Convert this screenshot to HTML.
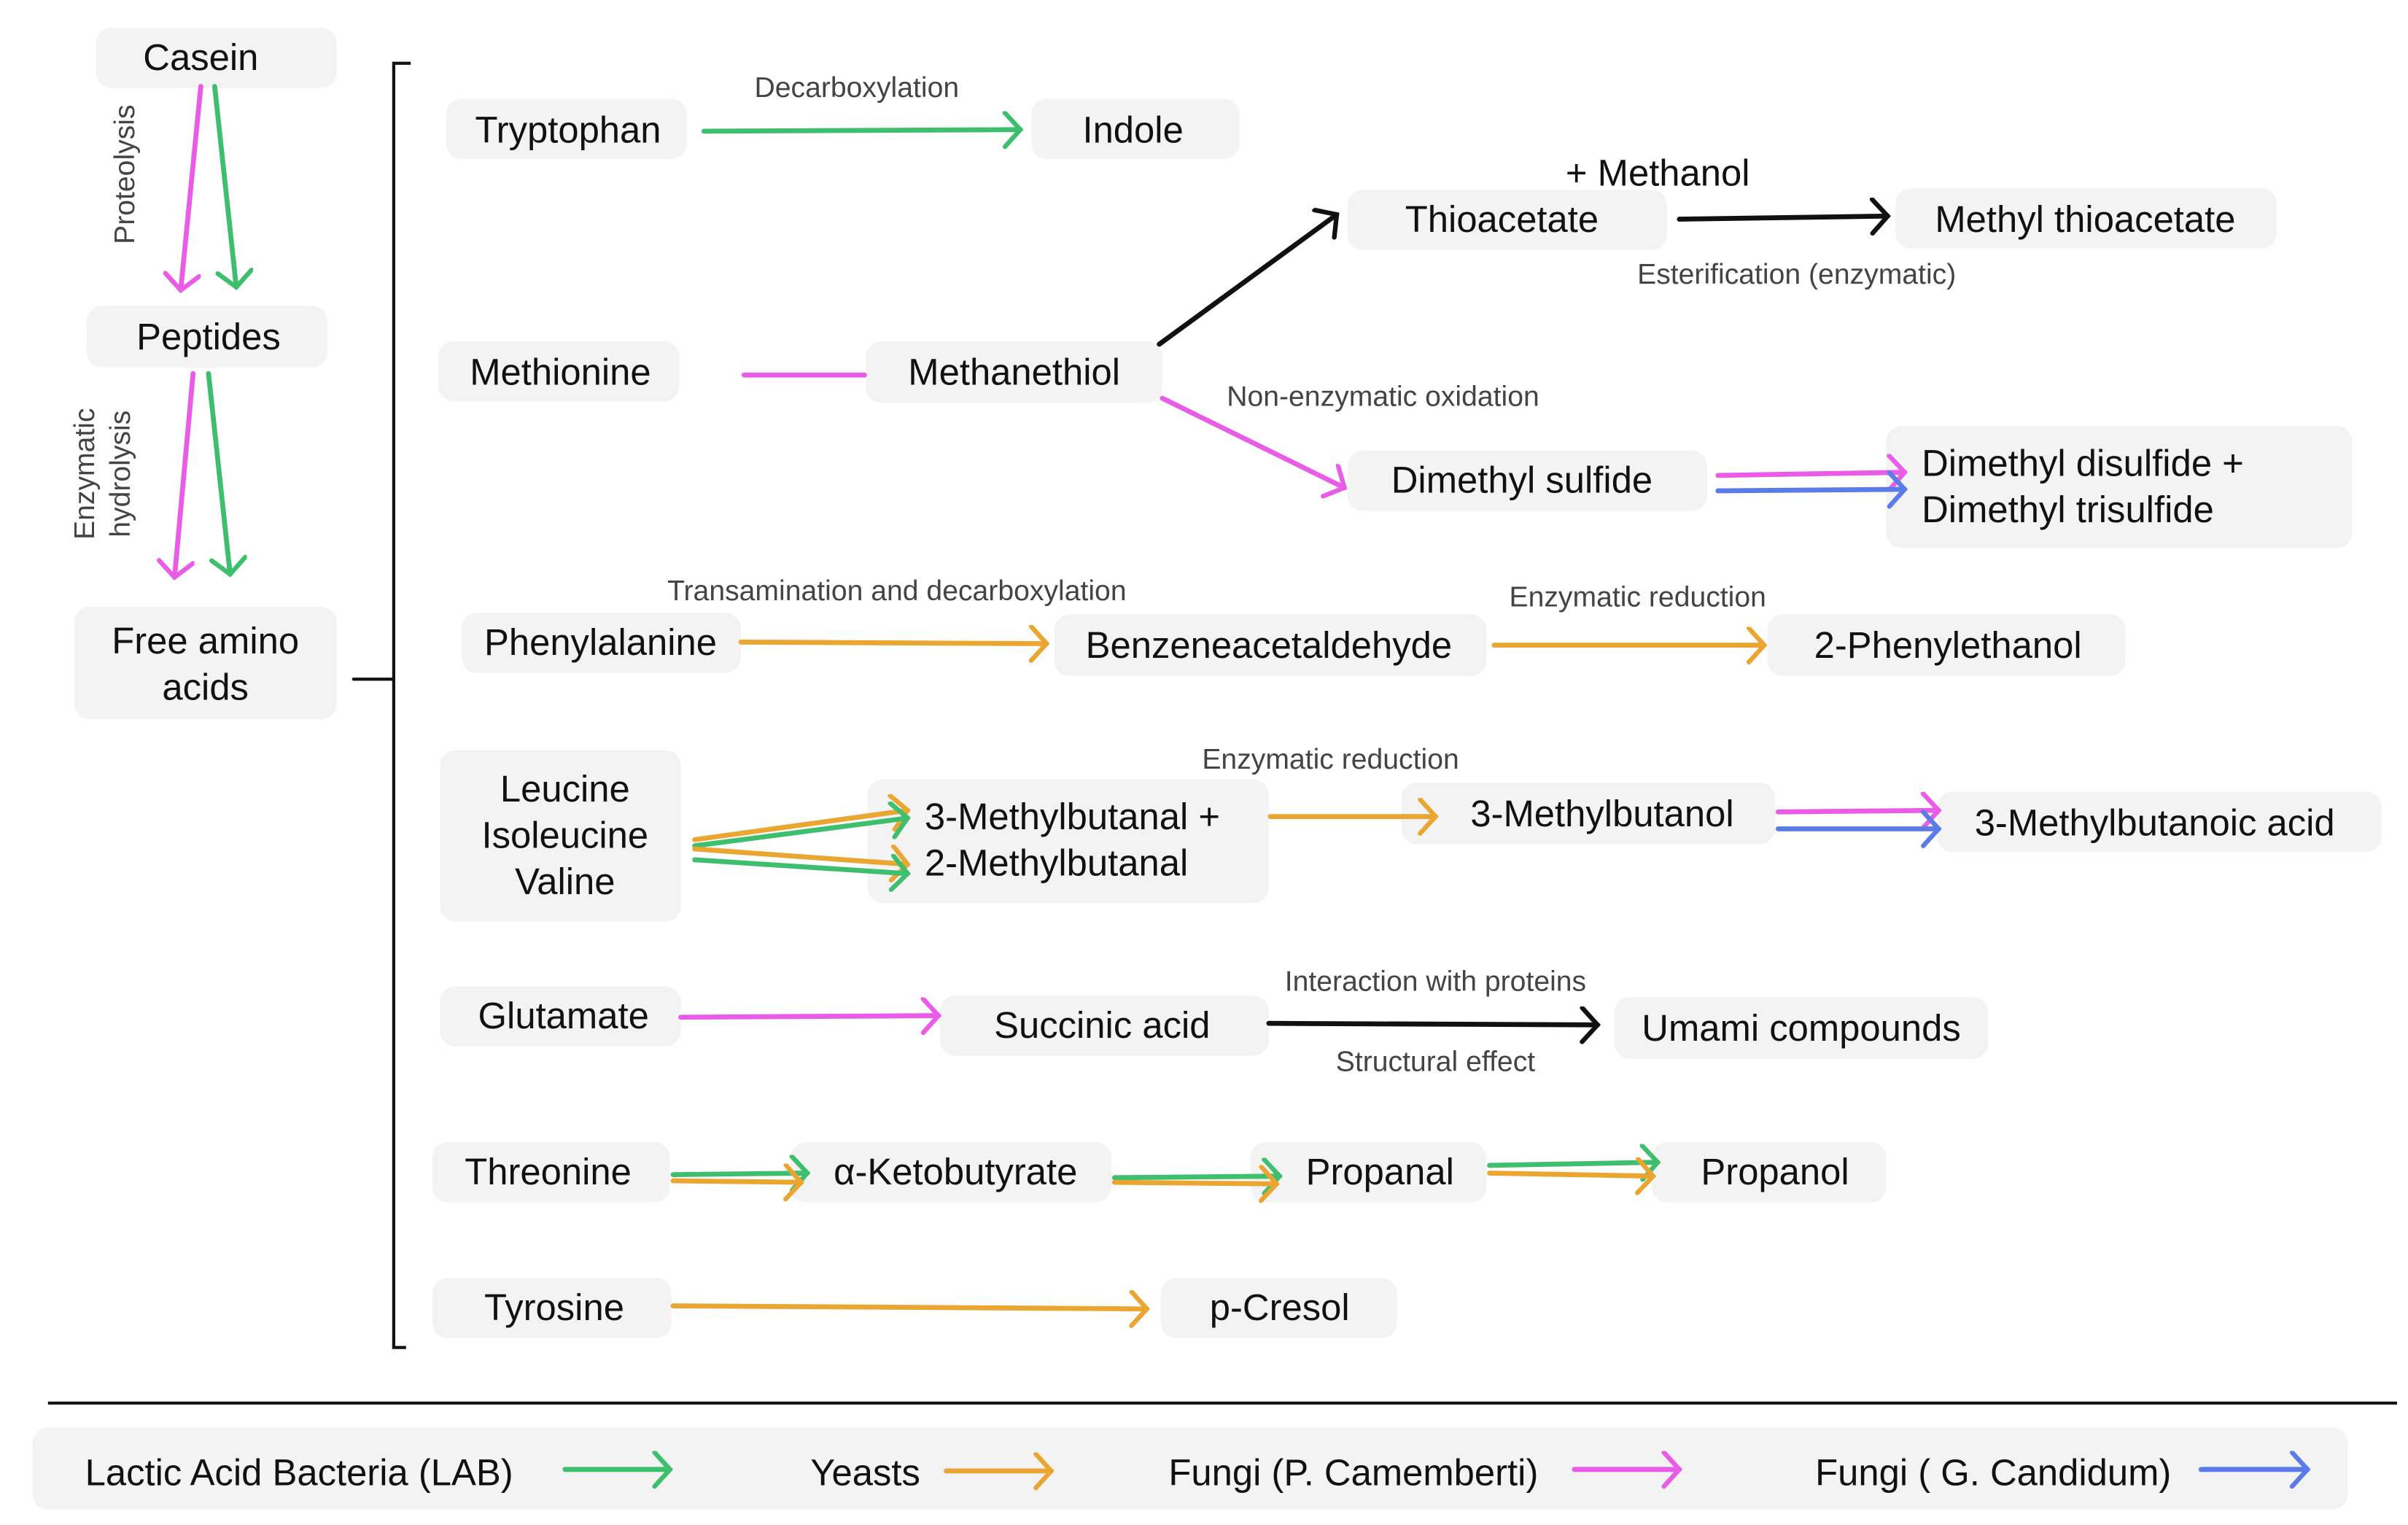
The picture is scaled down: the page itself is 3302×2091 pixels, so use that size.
<!DOCTYPE html>
<html><head><meta charset="utf-8"><style>
html,body{margin:0;padding:0;background:#fff;}
svg{display:block;}
.n{font-family:"Liberation Sans",sans-serif;font-size:24px;fill:#111;text-anchor:middle;dominant-baseline:central;}
.l{font-family:"Liberation Sans",sans-serif;font-size:18.5px;fill:#444;text-anchor:middle;dominant-baseline:central;}
.b{fill:#f3f3f3;}
</style></head><body>
<svg width="3302" height="2091" viewBox="0 0 1560 988" xmlns="http://www.w3.org/2000/svg">
<defs>
<marker id="mg" markerUnits="userSpaceOnUse" markerWidth="30" markerHeight="30" refX="14" refY="12" orient="auto"><path d="M4,1 L14,12 L4,23" fill="none" stroke="#3dbf6e" stroke-width="3" stroke-linecap="round"/></marker>
<marker id="mp" markerUnits="userSpaceOnUse" markerWidth="30" markerHeight="30" refX="14" refY="12" orient="auto"><path d="M4,1 L14,12 L4,23" fill="none" stroke="#e85ce8" stroke-width="3" stroke-linecap="round"/></marker>
<marker id="mo" markerUnits="userSpaceOnUse" markerWidth="30" markerHeight="30" refX="14" refY="12" orient="auto"><path d="M4,1 L14,12 L4,23" fill="none" stroke="#eaa630" stroke-width="3" stroke-linecap="round"/></marker>
<marker id="mb" markerUnits="userSpaceOnUse" markerWidth="30" markerHeight="30" refX="14" refY="12" orient="auto"><path d="M4,1 L14,12 L4,23" fill="none" stroke="#5a7be8" stroke-width="3" stroke-linecap="round"/></marker>
<marker id="mk" markerUnits="userSpaceOnUse" markerWidth="30" markerHeight="30" refX="14" refY="12" orient="auto"><path d="M4,1 L14,12 L4,23" fill="none" stroke="#111" stroke-width="3" stroke-linecap="round"/></marker>
</defs>
<!-- boxes -->
<g class="b">
<rect x="62" y="18" width="156" height="39" rx="10"/>
<rect x="56" y="198" width="156" height="40" rx="10"/>
<rect x="48" y="393" width="170" height="73" rx="10"/>
<rect x="289" y="64" width="156" height="39" rx="10"/>
<rect x="668" y="64" width="135" height="39" rx="10"/>
<rect x="873" y="123" width="207" height="39" rx="10"/>
<rect x="1228" y="122" width="247" height="39" rx="10"/>
<rect x="284" y="221" width="156" height="39" rx="10"/>
<rect x="561" y="221" width="192" height="40" rx="10"/>
<rect x="873" y="292" width="233" height="39" rx="10"/>
<rect x="1222" y="276" width="302" height="79" rx="10"/>
<rect x="299" y="397" width="181" height="39" rx="10"/>
<rect x="683" y="398" width="280" height="40" rx="10"/>
<rect x="1145" y="398" width="232" height="40" rx="10"/>
<rect x="285" y="486" width="156" height="111" rx="10"/>
<rect x="562" y="505" width="260" height="80" rx="10"/>
<rect x="908" y="507" width="242" height="40" rx="10"/>
<rect x="1255" y="513" width="288" height="39" rx="10"/>
<rect x="285" y="639" width="156" height="39" rx="10"/>
<rect x="609" y="645" width="213" height="39" rx="10"/>
<rect x="1046" y="646" width="242" height="40" rx="10"/>
<rect x="280" y="740" width="154" height="39" rx="10"/>
<rect x="512" y="740" width="208" height="39" rx="10"/>
<rect x="810" y="740" width="153" height="39" rx="10"/>
<rect x="1070" y="740" width="152" height="39" rx="10"/>
<rect x="280" y="828" width="155" height="39" rx="10"/>
<rect x="752" y="828" width="153" height="39" rx="10"/>
<rect x="21" y="925" width="1500" height="53" rx="10"/>
</g>
<g stroke-width="3.2" fill="none" stroke-linecap="round">
<line x1="130" y1="56" x2="117" y2="188" stroke="#e85ce8" marker-end="url(#mp)"/>
<line x1="139" y1="56" x2="153" y2="186" stroke="#3dbf6e" marker-end="url(#mg)"/>
<line x1="125" y1="242" x2="113" y2="374" stroke="#e85ce8" marker-end="url(#mp)"/>
<line x1="135" y1="242" x2="149" y2="372" stroke="#3dbf6e" marker-end="url(#mg)"/>
<polyline points="266,41 255,41 255,873 263,873" stroke="#111" stroke-width="2" stroke-linecap="butt"/>
<line x1="229" y1="440" x2="255" y2="440" stroke="#111" stroke-width="2"/>
<line x1="456" y1="85" x2="661" y2="84" stroke="#3dbf6e" marker-end="url(#mg)"/>
<line x1="1088" y1="142" x2="1223" y2="140" stroke="#111" marker-end="url(#mk)"/>
<line x1="482" y1="243" x2="560" y2="243" stroke="#e85ce8"/>
<line x1="751" y1="223" x2="866" y2="139" stroke="#111" marker-end="url(#mk)"/>
<line x1="753" y1="258" x2="871" y2="316" stroke="#e85ce8" marker-end="url(#mp)"/>
<line x1="1113" y1="308" x2="1234" y2="306" stroke="#e85ce8" marker-end="url(#mp)"/>
<line x1="1113" y1="318" x2="1234" y2="317" stroke="#5a7be8" marker-end="url(#mb)"/>
<line x1="480" y1="416" x2="678" y2="417" stroke="#eaa630" marker-end="url(#mo)"/>
<line x1="968" y1="418" x2="1143" y2="418" stroke="#eaa630" marker-end="url(#mo)"/>
<line x1="450" y1="544" x2="588" y2="525" stroke="#eaa630" marker-end="url(#mo)"/>
<line x1="450" y1="548" x2="588" y2="530" stroke="#3dbf6e" marker-end="url(#mg)"/>
<line x1="450" y1="550" x2="588" y2="560" stroke="#eaa630" marker-end="url(#mo)"/>
<line x1="450" y1="557" x2="588" y2="566" stroke="#3dbf6e" marker-end="url(#mg)"/>
<line x1="823" y1="529" x2="930" y2="529" stroke="#eaa630" marker-end="url(#mo)"/>
<line x1="1152" y1="526" x2="1256" y2="525" stroke="#e85ce8" marker-end="url(#mp)"/>
<line x1="1152" y1="537" x2="1256" y2="537" stroke="#5a7be8" marker-end="url(#mb)"/>
<line x1="441" y1="659" x2="608" y2="658" stroke="#e85ce8" marker-end="url(#mp)"/>
<line x1="822" y1="663" x2="1035" y2="664" stroke="#111" marker-end="url(#mk)"/>
<line x1="436" y1="761" x2="523" y2="760" stroke="#3dbf6e" marker-end="url(#mg)"/>
<line x1="436" y1="765" x2="519" y2="766" stroke="#eaa630" marker-end="url(#mo)"/>
<line x1="722" y1="763" x2="829" y2="762" stroke="#3dbf6e" marker-end="url(#mg)"/>
<line x1="722" y1="766" x2="827" y2="767" stroke="#eaa630" marker-end="url(#mo)"/>
<line x1="965" y1="755" x2="1074" y2="753" stroke="#3dbf6e" marker-end="url(#mg)"/>
<line x1="965" y1="760" x2="1071" y2="762" stroke="#eaa630" marker-end="url(#mo)"/>
<line x1="436" y1="846" x2="743" y2="848" stroke="#eaa630" marker-end="url(#mo)"/>
<line x1="31" y1="909" x2="1553" y2="909" stroke="#111" stroke-width="2" stroke-linecap="butt"/>
<line x1="366" y1="952" x2="434" y2="952" stroke="#3dbf6e" marker-end="url(#mg)"/>
<line x1="613" y1="953" x2="681" y2="953" stroke="#eaa630" marker-end="url(#mo)"/>
<line x1="1020" y1="952" x2="1088" y2="952" stroke="#e85ce8" marker-end="url(#mp)"/>
<line x1="1426" y1="952" x2="1495" y2="952" stroke="#5a7be8" marker-end="url(#mb)"/>
</g>
<g class="n">
<text x="130" y="37">Casein</text>
<text x="135" y="218">Peptides</text>
<text x="133" y="415">Free amino</text>
<text x="133" y="445">acids</text>
<text x="368" y="84">Tryptophan</text>
<text x="734" y="84">Indole</text>
<text x="973" y="142">Thioacetate</text>
<text x="1351" y="142">Methyl thioacetate</text>
<text x="1074" y="112">+ Methanol</text>
<text x="363" y="241">Methionine</text>
<text x="657" y="241">Methanethiol</text>
<text x="986" y="311">Dimethyl sulfide</text>
<text x="1245" y="300" style="text-anchor:start">Dimethyl disulfide +</text>
<text x="1245" y="330" style="text-anchor:start">Dimethyl trisulfide</text>
<text x="389" y="416">Phenylalanine</text>
<text x="822" y="418">Benzeneacetaldehyde</text>
<text x="1262" y="418">2-Phenylethanol</text>
<text x="366" y="511">Leucine</text>
<text x="366" y="541">Isoleucine</text>
<text x="366" y="571">Valine</text>
<text x="599" y="529" style="text-anchor:start">3-Methylbutanal +</text>
<text x="599" y="559" style="text-anchor:start">2-Methylbutanal</text>
<text x="1038" y="527">3-Methylbutanol</text>
<text x="1396" y="533">3-Methylbutanoic acid</text>
<text x="365" y="658">Glutamate</text>
<text x="714" y="664">Succinic acid</text>
<text x="1167" y="666">Umami compounds</text>
<text x="355" y="759">Threonine</text>
<text x="619" y="759">α-Ketobutyrate</text>
<text x="894" y="759">Propanal</text>
<text x="1150" y="759">Propanol</text>
<text x="359" y="847">Tyrosine</text>
<text x="829" y="847">p-Cresol</text>
<text x="55" y="954" style="text-anchor:start">Lactic Acid Bacteria (LAB)</text>
<text x="525" y="954" style="text-anchor:start">Yeasts</text>
<text x="757" y="954" style="text-anchor:start">Fungi (P. Camemberti)</text>
<text x="1176" y="954" style="text-anchor:start">Fungi ( G. Candidum)</text>
</g>
<g class="l">
<text x="555" y="57">Decarboxylation</text>
<text x="1164" y="178">Esterification (enzymatic)</text>
<text x="896" y="257">Non-enzymatic oxidation</text>
<text x="581" y="383">Transamination and decarboxylation</text>
<text x="1061" y="387">Enzymatic reduction</text>
<text x="862" y="492">Enzymatic reduction</text>
<text x="930" y="636">Interaction with proteins</text>
<text x="930" y="688">Structural effect</text>
<text transform="translate(81,113) rotate(-90)">Proteolysis</text>
<text transform="translate(55,307) rotate(-90)">Enzymatic</text>
<text transform="translate(78,307) rotate(-90)">hydrolysis</text>
</g>
</svg>
</body></html>
